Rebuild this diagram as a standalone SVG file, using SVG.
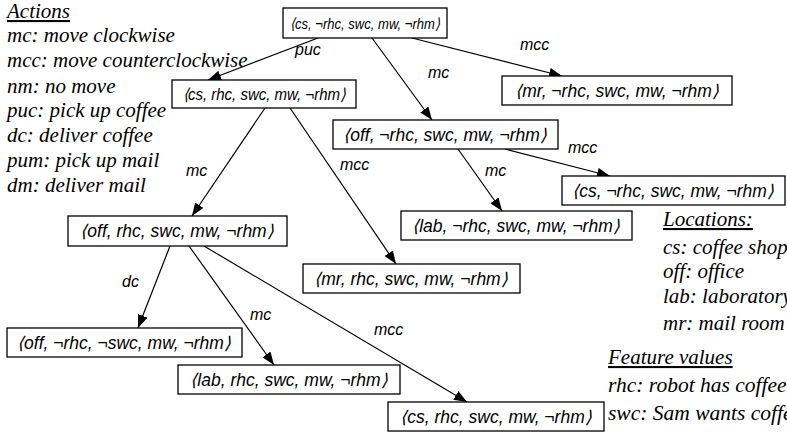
<svg xmlns="http://www.w3.org/2000/svg" width="787" height="433" viewBox="0 0 787 433">
<defs>
<marker id="ah" markerUnits="userSpaceOnUse" markerWidth="14" markerHeight="11" refX="13" refY="5" orient="auto">
<path d="M0,0 L13,5 L0,10 z" fill="#000"/>
</marker>
<style>
.box{fill:#fff;stroke:#000;stroke-width:1.3}
.nt{font-family:"Liberation Sans",Arial,sans-serif;font-style:italic;font-size:17.5px;text-anchor:middle;fill:#000}
.lb{font-family:"Liberation Sans",Arial,sans-serif;font-style:italic;font-size:16px;fill:#000}
.lg{font-family:"Liberation Serif","Times New Roman",serif;font-style:italic;font-size:21px;fill:#000}
.hd{text-decoration:underline}
.e{stroke:#000;stroke-width:1.2;fill:none;marker-end:url(#ah)}
</style>
</defs>
<rect width="787" height="433" fill="#fff"/>

<g id="legend-actions">
<text class="lg hd" x="7" y="18">Actions</text>
<text class="lg" x="7" y="42">mc: move clockwise</text>
<text class="lg" x="7" y="67">mcc: move counterclockwise</text>
<text class="lg" x="7" y="93">nm: no move</text>
<text class="lg" x="7" y="117">puc: pick up coffee</text>
<text class="lg" x="7" y="142">dc: deliver coffee</text>
<text class="lg" x="7" y="167">pum: pick up mail</text>
<text class="lg" x="7" y="192">dm: deliver mail</text>
</g>

<g id="legend-locations">
<text class="lg hd" x="663" y="226">Locations:</text>
<text class="lg" x="663" y="254">cs: coffee shop</text>
<text class="lg" x="663" y="278">off: office</text>
<text class="lg" x="663" y="303">lab: laboratory</text>
<text class="lg" x="663" y="330">mr: mail room</text>
<text class="lg hd" x="608" y="364">Feature values</text>
<text class="lg" x="608" y="392" style="font-size:21.5px">rhc: robot has coffee</text>
<text class="lg" x="608" y="420" style="font-size:21.5px">swc: Sam wants coffee</text>
</g>

<g id="connectors">
<line class="e" x1="318" y1="38" x2="208" y2="80"/>
<line class="e" x1="372" y1="38" x2="432" y2="120"/>
<line class="e" x1="412" y1="38" x2="562" y2="76"/>
<line class="e" x1="265" y1="108" x2="192" y2="216"/>
<line class="e" x1="290" y1="108" x2="396" y2="264"/>
<line class="e" x1="458" y1="149" x2="502" y2="211"/>
<line class="e" x1="505" y1="149" x2="610" y2="176"/>
<line class="e" x1="170" y1="246" x2="138" y2="328"/>
<line class="e" x1="189" y1="246" x2="274" y2="365"/>
<line class="e" x1="204" y1="246" x2="467" y2="402"/>
<text class="lb" x="295" y="55">puc</text>
<text class="lb" x="520" y="50">mcc</text>
<text class="lb" x="428" y="78">mc</text>
<text class="lb" x="186" y="176">mc</text>
<text class="lb" x="340" y="170">mcc</text>
<text class="lb" x="485" y="176">mc</text>
<text class="lb" x="568" y="153">mcc</text>
<text class="lb" x="122" y="287">dc</text>
<text class="lb" x="250" y="320">mc</text>
<text class="lb" x="374" y="335">mcc</text>
</g>

<g id="n-root"><rect class="box" x="283" y="8" width="164" height="30"/><text class="nt" x="365" y="29" style="font-size:15.5px" textLength="150" lengthAdjust="spacingAndGlyphs">⟨cs, ¬rhc, swc, mw, ¬rhm⟩</text></g>
<g id="n-cs-rhc"><rect class="box" x="172" y="80" width="184" height="28"/><text class="nt" x="264" y="100" style="font-size:16.5px" textLength="163" lengthAdjust="spacingAndGlyphs">⟨cs, rhc, swc, mw, ¬rhm⟩</text></g>
<g id="n-mr-nrhc"><rect class="box" x="502" y="76" width="230" height="29"/><text class="nt" x="617" y="97">⟨mr, ¬rhc, swc, mw, ¬rhm⟩</text></g>
<g id="n-off-nrhc"><rect class="box" x="333" y="120" width="225" height="29"/><text class="nt" x="445" y="141">⟨off, ¬rhc, swc, mw, ¬rhm⟩</text></g>
<g id="n-cs-nrhc"><rect class="box" x="562" y="176" width="223" height="29"/><text class="nt" x="673" y="197">⟨cs, ¬rhc, swc, mw, ¬rhm⟩</text></g>
<g id="n-lab-nrhc"><rect class="box" x="401" y="211" width="231" height="29"/><text class="nt" x="516" y="232">⟨lab, ¬rhc, swc, mw, ¬rhm⟩</text></g>
<g id="n-off-rhc"><rect class="box" x="68" y="216" width="219" height="30"/><text class="nt" x="177" y="237">⟨off, rhc, swc, mw, ¬rhm⟩</text></g>
<g id="n-mr-rhc"><rect class="box" x="303" y="264" width="217" height="29"/><text class="nt" x="411" y="285">⟨mr, rhc, swc, mw, ¬rhm⟩</text></g>
<g id="n-off-nswc"><rect class="box" x="7" y="328" width="235" height="29"/><text class="nt" x="124" y="349">⟨off, ¬rhc, ¬swc, mw, ¬rhm⟩</text></g>
<g id="n-lab-rhc"><rect class="box" x="178" y="365" width="222" height="29"/><text class="nt" x="289" y="386">⟨lab, rhc, swc, mw, ¬rhm⟩</text></g>
<g id="n-cs-rhc2"><rect class="box" x="388" y="402" width="216" height="29"/><text class="nt" x="496" y="423">⟨cs, rhc, swc, mw, ¬rhm⟩</text></g>
</svg>
